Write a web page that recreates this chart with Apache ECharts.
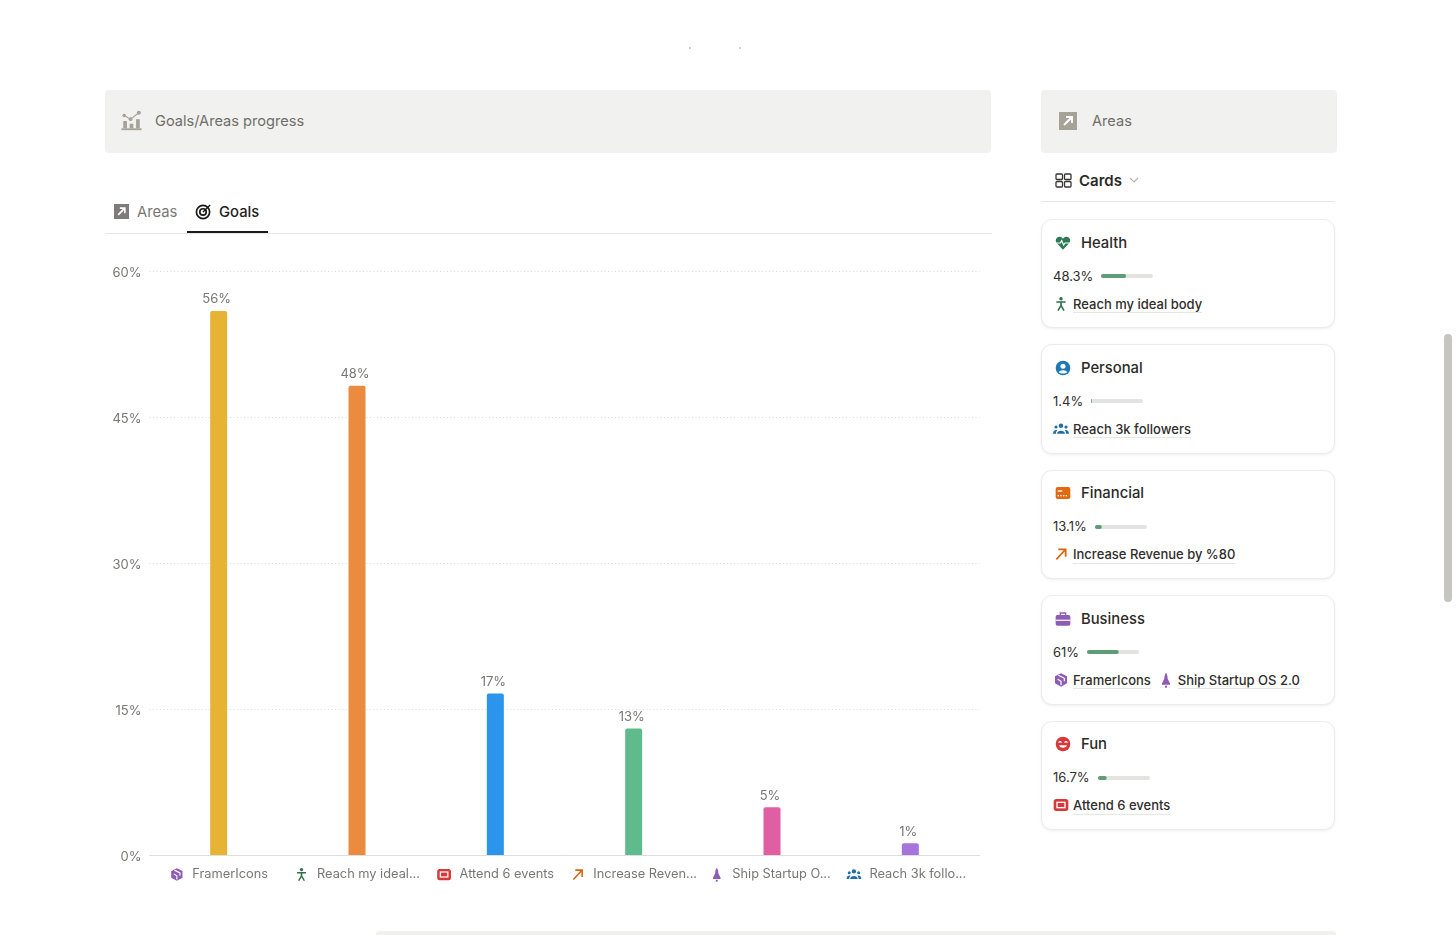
<!DOCTYPE html>
<html>
<head>
<meta charset="utf-8">
<title>Goals/Areas progress</title>
<script src="https://cdn.jsdelivr.net/npm/echarts@6/dist/echarts.min.js"></script>
<style>
  html, body { margin: 0; height: 100%; background: #fff; overflow: hidden; font-family: Inter, "Noto Sans", sans-serif; color: #2f2e2b; }
  .abs { position: absolute; }
  .banner { background: #f1f1ef; border-radius: 4px; top: 90px; height: 63px; font-size: 14.6px; color: #6f6e69; line-height: 62px; }
  .banner span { position: absolute; top: 0; white-space: nowrap; }
  .banner svg { position: absolute; }
  .tab { top: 203px; font-size: 14.8px; line-height: 18px; white-space: nowrap; }
  #graph { left: 105px; top: 250px; width: 890px; height: 650px; }
  #cards { left: 1040.5px; top: 219px; width: 294.5px; }
  .card { position: relative; box-sizing: border-box; height: 109.4px; margin-bottom: 16px; border: 1px solid #ececea; border-radius: 11px; box-shadow: 0 1px 3px rgba(15,15,15,.07); background: #fff; }
  .card .name { position: absolute; left: 39.5px; top: 12.7px; font-size: 14.8px; font-weight: 500; line-height: 20px; color: #2b2a27; }
  .card .pct { position: absolute; left: 11.5px; top: 46.5px; font-size: 13px; line-height: 18px; display: flex; align-items: center; }
  .card .meter { width: 52px; height: 6px; margin-left: 8px; position: relative; top: 0.5px; }
  .card .goals { position: absolute; left: 11.5px; top: 75.5px; font-size: 13px; font-weight: 500; line-height: 16.5px; white-space: nowrap; display: flex; }
  .card .goals b { font-weight: 500; border-bottom: 1px solid #e6e6e3; margin: 0 7px 0 4px; }
  .card svg { flex: none; }
  .card .head { position: absolute; left: 13px; top: 14.5px; }
</style>
</head>
<body>
<div class="abs" style="left:689px;top:47px;width:2px;height:2px;background:#cfcfcf"></div>
<div class="abs" style="left:739px;top:47px;width:2px;height:2px;background:#cfcfcf"></div>

<div class="abs banner" style="left:105px;width:886px">
  <svg style="left:15px;top:20px" width="23" height="22" viewBox="0 0 24 24" fill="#a5a297"><rect x="1" y="20" width="22" height="2"/><rect x="3" y="12" width="4" height="8"/><rect x="10" y="15" width="4" height="5"/><rect x="17" y="10" width="4" height="10"/><circle cx="4" cy="6" r="2"/><circle cx="11" cy="10" r="2"/><circle cx="20" cy="3" r="2.2"/><path d="M4 6L11 10L20 3" stroke="#a5a297" stroke-width="1.2" fill="none"/></svg>
  <span style="left:50px">Goals/Areas progress</span>
</div>
<div class="abs banner" style="left:1041px;width:296px">
  <svg style="left:18px;top:22px" width="18" height="18" viewBox="0 0 18 18"><rect width="18" height="18" fill="#a5a297"/><path d="M5 13L13 5M7 5H13V11" stroke="#fff" stroke-width="2" fill="none"/></svg>
  <span style="left:51px">Areas</span>
</div>

<svg class="abs" style="left:114px;top:203.500px" width="15" height="15" viewBox="0 0 18 18"><rect width="18" height="18" fill="#7d7c78"/><path d="M5 13L13 5M7 5H13V11" stroke="#fff" stroke-width="2" fill="none"/></svg>
<div class="abs tab" style="left:137px;color:#787774">Areas</div>
<svg class="abs" style="left:195px;top:203px" width="17" height="17" viewBox="0 0 18 18" fill="none" stroke="#1c1b19" stroke-width="1.8"><circle cx="8.5" cy="9.5" r="7"/><circle cx="8.5" cy="9.5" r="3.4"/><path d="M8.5 9.5L16 2" stroke-width="1.5"/></svg>
<div class="abs tab" style="left:219px;color:#1f1e1b;font-weight:500">Goals</div>
<div class="abs" style="left:105px;top:233px;width:887px;height:1px;background:#e6e6e4"></div>
<div class="abs" style="left:187px;top:231px;width:81px;height:2px;background:#1c1b19"></div>

<svg class="abs" style="left:1055px;top:173px" width="17" height="15" viewBox="0 0 17 15" fill="none" stroke="#37352f" stroke-width="1.3"><rect x="1" y="1" width="6.5" height="5.5" rx="1"/><rect x="9.5" y="1" width="6.5" height="5.5" rx="1"/><rect x="1" y="8.5" width="6.5" height="5.5" rx="1"/><rect x="9.5" y="8.5" width="6.5" height="5.5" rx="1"/></svg>
<div class="abs" style="left:1079px;top:171px;font-size:15px;font-weight:600;line-height:19px;color:#2b2a27">Cards</div>
<svg class="abs" style="left:1129px;top:177px" width="10" height="7" viewBox="0 0 10 7" fill="none" stroke="#b5b4b0" stroke-width="1.1"><path d="M1 1L5 5L9 1"/></svg>
<div class="abs" style="left:1041px;top:201px;width:294px;height:1px;background:#e6e6e4"></div>

<div class="abs" id="graph"></div>
<div class="abs" id="cards"></div>

<div class="abs" style="left:1444px;top:334px;width:8px;height:268px;border-radius:4px;background:#c6c5c0"></div>
<div class="abs" style="left:376px;top:931px;width:960px;height:4px;background:#f1f1ef;border-radius:3px 3px 0 0"></div>

<script>
const goalLabels = ['FramerIcons', 'Reach my ideal...', 'Attend 6 events', 'Increase Reven...', 'Ship Startup O...', 'Reach 3k follo...'];
const goalValues = [55.9, 48.2, 16.6, 13.0, 4.9, 1.2];
const goalColors = ['#e6b334', '#ea8b3f', '#2b95ec', '#5fbb8c', '#e05fa3', '#a575dc'];
const yTicks = [0, 15, 30, 45, 60];

const areaNames = ['Health', 'Personal', 'Financial', 'Business', 'Fun'];
const areaProgress = [48.3, 1.4, 13.1, 61, 16.7];
const areaProgressText = ['48.3%', '1.4%', '13.1%', '61%', '16.7%'];
const areaGoals = [['Reach my ideal body'], ['Reach 3k followers'], ['Increase Revenue by %80'], ['FramerIcons', 'Ship Startup OS 2.0'], ['Attend 6 events']];

// icons, same shapes are used on the axis labels and on the cards
const icons = {
  cube: '<path fill="#8e5bb5" d="M12 2L21 6.5V17L12 22L3 17V6.5Z"/><path fill="none" stroke="#fff" stroke-width="1.8" d="M8 5L17 9.5V14M7 11L12 14V20"/>',
  body: '<g fill="none" stroke="#2c6e49" stroke-width="2.4"><path d="M5 9H19M12 9V14M12 14L7.5 22M12 14L16.5 22"/></g><circle cx="12" cy="4" r="2.6" fill="#2c6e49"/>',
  event: '<rect x="1" y="3" width="22" height="18" rx="4" fill="#d9383a"/><rect x="5" y="7" width="14" height="10" fill="#fff"/><rect x="7" y="9" width="10" height="6" fill="#d9383a"/>',
  arrow: '<path fill="none" stroke="#d9650f" stroke-width="2.6" d="M5 20L18 6M8 5H19V16"/>',
  rocket: '<path fill="#8e5bb5" d="M12 1C14 4 14.500 7 14.500 10L18 17V19H6V17L9.500 10C9.500 7 10 4 12 1Z"/><rect x="10.500" y="20.500" width="3" height="3" fill="#8e5bb5"/>',
  people: '<g fill="#1f6fa8"><circle cx="12" cy="7" r="3.400"/><circle cx="4.500" cy="9" r="2.400"/><circle cx="19.500" cy="9" r="2.400"/><path d="M6 19C6 13 18 13 18 19ZM0 19C0 13.500 5 13 6.500 14C5 15.500 4.500 17 4.500 19ZM24 19C24 13.500 19 13 17.500 14C19 15.500 19.500 17 19.500 19Z"/></g>',
  heart: '<path fill="#2c7a53" d="M12 22L2.500 12C-1 7 3 2 7.500 2.500C9.500 2.700 11 4 12 5.500C13 4 14.500 2.700 16.500 2.500C21 2 25 7 21.500 12Z"/><path fill="none" stroke="#fff" stroke-width="1.800" d="M2 12H8L10 8.500L13 15L15 12H22"/>',
  user: '<circle cx="12" cy="12" r="11" fill="#1f78b4"/><circle cx="12" cy="9.500" r="3.800" fill="#fff"/><path fill="#fff" d="M5.500 18.500C7 14.500 17 14.500 18.500 18.500C15 21 9 21 5.500 18.500Z"/>',
  card: '<rect x="1" y="3" width="22" height="18" rx="3" fill="#e2690f"/><g fill="#fff"><rect x="4" y="8" width="7" height="2"/><rect x="4" y="15" width="2" height="2"/><rect x="8" y="15" width="2" height="2"/><rect x="12" y="15" width="2" height="2"/><rect x="16" y="15" width="2" height="2"/></g>',
  case: '<path fill="none" stroke="#8e5bb5" stroke-width="2" d="M8 7V3H16V7"/><rect x="1" y="6" width="22" height="16" rx="2.500" fill="#8e5bb5"/><rect x="1" y="13" width="22" height="1.800" fill="#fff"/>',
  smile: '<circle cx="12" cy="12" r="11" fill="#d9383a"/><path fill="none" stroke="#fff" stroke-width="1.800" d="M5.500 10C6.500 8 8.500 8 9.500 10M14.500 10C15.500 8 17.500 8 18.500 10"/><path fill="#fff" d="M6 14H18C17 19 7 19 6 14Z"/>'
};
const svgOf = (name, size) => `<svg width="${size}" height="${size}" viewBox="0 0 24 24">${icons[name]}</svg>`;
const uriOf = name => 'data:image/svg+xml;utf8,' + encodeURIComponent(`<svg xmlns="http://www.w3.org/2000/svg" width="48" height="48" viewBox="0 0 24 24">${icons[name]}</svg>`);

const goalIcons = ['cube', 'body', 'event', 'arrow', 'rocket', 'people'];
const areaIcons = ['heart', 'user', 'card', 'case', 'smile'];
const areaGoalIcons = [['body'], ['people'], ['arrow'], ['cube', 'rocket'], ['event']];

// the last two labels sit a bit left of their bars in the original
const richLabels = {};
goalIcons.forEach((name, i) => {
  richLabels['i' + i] = { width: 15, height: 15, backgroundColor: { image: uriOf(name) } };
  richLabels['t' + i] = { color: '#787774', fontSize: 12.8, fontFamily: 'Inter', padding: [0, i > 3 ? 4 * (i - 3) : 0, 0, 8] };
});

const chart = echarts.init(document.getElementById('graph'), null, { renderer: 'canvas' });
chart.setOption({
  animation: false,
  textStyle: { fontFamily: 'Inter' },
  grid: { left: 44.5, top: 21, width: 830, height: 584 },
  xAxis: {
    type: 'category',
    data: goalLabels,
    axisTick: { show: false },
    axisLine: { lineStyle: { color: '#dededc', width: 1 } },
    axisLabel: {
      interval: 0,
      margin: 12,
      formatter: (v, i) => `{i${i}|}{t${i}|${v}}`,
      rich: richLabels
    }
  },
  yAxis: {
    type: 'value',
    min: yTicks[0],
    max: yTicks[yTicks.length - 1],
    interval: 15,
    axisLine: { show: false },
    axisTick: { show: false },
    axisLabel: {
      margin: 8,
      formatter: '{v|{value}%}',
      rich: { v: { color: '#787774', fontSize: 13, fontFamily: 'Inter', padding: [4, 0, 0, 0] } }
    },
    splitLine: { lineStyle: { color: '#dcdcda', type: [1, 2.5], width: 1 } }
  },
  series: [{
    type: 'bar',
    barWidth: 17,
    data: goalValues.map((v, i) => ({ value: v, itemStyle: { color: goalColors[i], borderRadius: [2, 2, 0, 0] } })),
    label: {
      show: true,
      position: 'top',
      distance: 6,
      offset: [-2, 1],
      color: '#787774',
      fontSize: 13,
      fontFamily: 'Inter',
      formatter: p => Math.round(p.value) + '%'
    }
  }]
});

// side cards, each meter is its own small bar chart
const cardsEl = document.getElementById('cards');
areaNames.forEach((name, i) => {
  const card = document.createElement('div');
  card.className = 'card';
  const goals = areaGoals[i].map((g, k) => svgOf(areaGoalIcons[i][k], 16) + `<b>${g}</b>`).join('');
  card.innerHTML = `<div class="head">${svgOf(areaIcons[i], 16)}</div><div class="name">${name}</div>` +
    `<div class="pct"><span>${areaProgressText[i]}</span><div class="meter"></div></div><div class="goals">${goals}</div>`;
  cardsEl.appendChild(card);
  const meter = echarts.init(card.querySelector('.meter'));
  meter.setOption({
    animation: false,
    grid: { left: 0, right: 0, top: 0, bottom: 0 },
    xAxis: { type: 'value', min: 0, max: 100, show: false },
    yAxis: { type: 'category', data: [name], show: false },
    series: [{
      type: 'bar',
      barWidth: 4,
      data: [areaProgress[i]],
      showBackground: true,
      backgroundStyle: { color: '#e3e3e0', borderRadius: 2 },
      itemStyle: { color: '#5e9c76', borderRadius: 2 }
    }]
  });
});
</script>
</body>
</html>
